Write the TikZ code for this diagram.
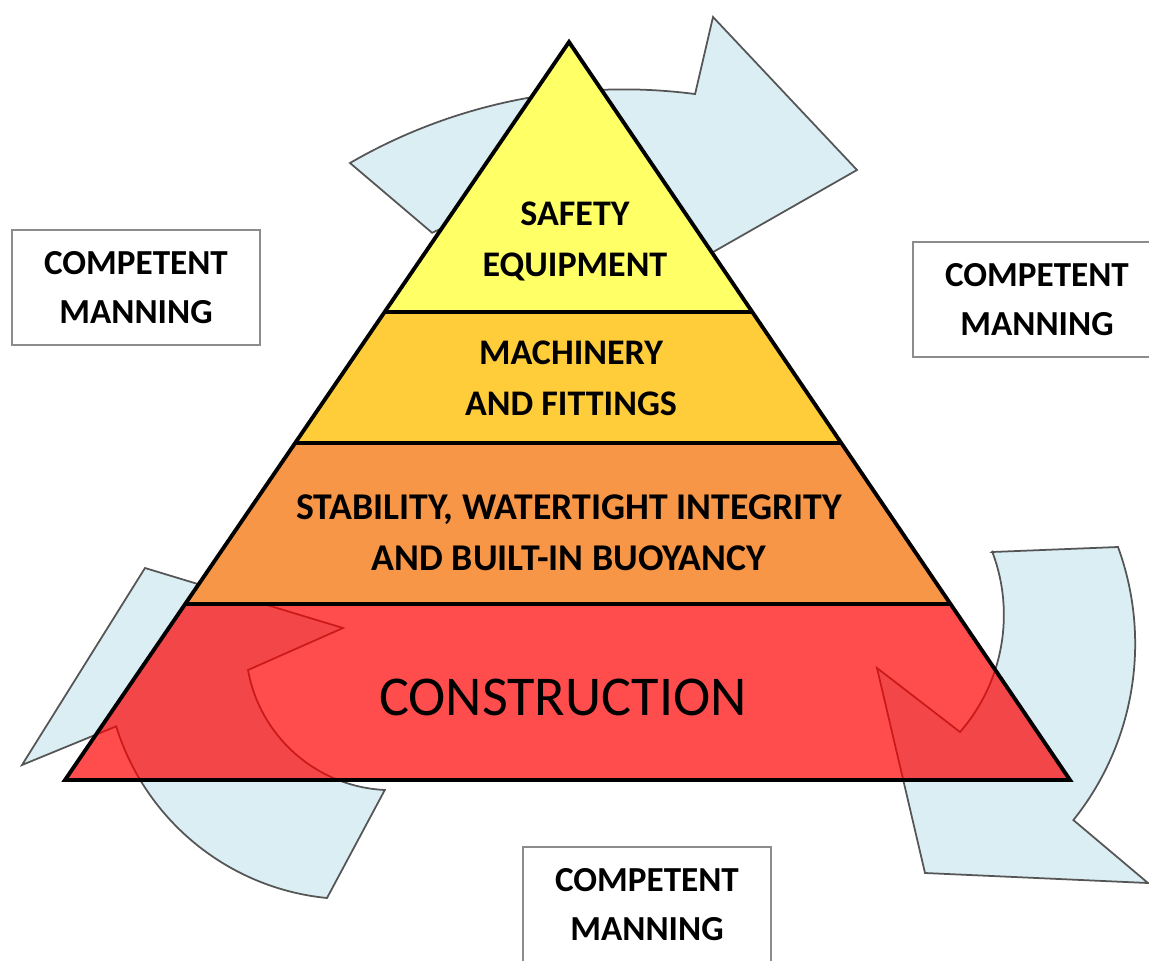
\documentclass[tikz,border=0pt]{standalone}
\usepackage{fontspec}
\setmainfont{Carlito}
\usetikzlibrary{calc}
\definecolor{arrowblue}{RGB}{218,238,243}
\definecolor{arrowgray}{RGB}{85,85,85}
\definecolor{boxgray}{RGB}{140,140,140}
\definecolor{topyellow}{RGB}{255,255,102}
\definecolor{amber}{RGB}{255,204,58}
\definecolor{midorange}{RGB}{247,150,70}
\begin{document}
\begin{tikzpicture}[x=.02cm,y=-.02cm,
	turn/.style={fill=arrowblue,draw=arrowgray,line width=1pt,line join=miter},
	box/.style={draw=boxgray,line width=.8pt,fill=white,minimum width=4.96cm,minimum height=2.3cm,align=center,font=\fontsize{20}{28}\selectfont\bfseries},
	layer/.style={align=center,font=\fontsize{20.5}{29}\selectfont\bfseries}]
	\clip (0,0) rectangle (1149,960);
	% the three turning arrows
	\draw[turn] (350,163) arc[start angle=-120.1,end angle=-82.5,radius=546] -- (713,17) -- (857,170) -- (650,288) -- (600,190) arc[start angle=-93.1,end angle=-115.5,radius=446] -- cycle;
	\draw[turn] (992,552) -- (1118,547) arc[start angle=-20.1,end angle=38.66,radius=282] -- (1148,883) -- (925,873) -- (877,668) -- (960,732) arc[start angle=41.1,end angle=-20.8,radius=178] -- cycle;
	\draw[turn] (327,898) arc[start angle=95.6,end angle=162.7,radius=246] -- (22,765) -- (145,568) -- (343,628) -- (248,670) arc[start angle=169.8,end angle=92.7,radius=146] -- cycle;
	\path
	(569,42) coordinate (T)
	(65,780) coordinate (BL)
	(1070,780) coordinate (BR)
	($(T)!.3659!(BL)$) coordinate (L1)
	($(T)!.3659!(BR)$) coordinate (R1)
	($(T)!.5434!(BL)$) coordinate (L2)
	($(T)!.5434!(BR)$) coordinate (R2)
	($(T)!.7615!(BL)$) coordinate (L3)
	($(T)!.7615!(BR)$) coordinate (R3);
	\fill[topyellow] (T)--(L1)--(R1)--cycle;
	\fill[amber] (L1)--(L2)--(R2)--(R1)--cycle;
	\fill[midorange] (L2)--(L3)--(R3)--(R2)--cycle;
	\fill[red,fill opacity=.7] (L3)--(BL)--(BR)--(R3)--cycle;
	\draw[line width=2.2pt] (T)--(BL)--(BR)--cycle (L1)--(R1) (L2)--(R2) (L3)--(R3);
	\node[layer] (safety) at (575,241) {SAFETY\\EQUIPMENT};
	\node[layer] (machinery) at (571,378) {MACHINERY\\AND FITTINGS};
	\node[layer,font=\fontsize{21.5}{29}\selectfont\bfseries] (stability) at (569,533) {STABILITY, WATERTIGHT INTEGRITY\\AND BUILT-IN BUOYANCY};
	\node[font=\fontsize{32}{36}\selectfont] (construction) at (563,697) {CONSTRUCTION};
	\foreach \n/\x/\y in {l/136/287.5,r/1037/299.5,b/647/904.5}
	\node[box] (manning\n) at (\x,\y) {COMPETENT\\MANNING};
\end{tikzpicture}
\end{document}
